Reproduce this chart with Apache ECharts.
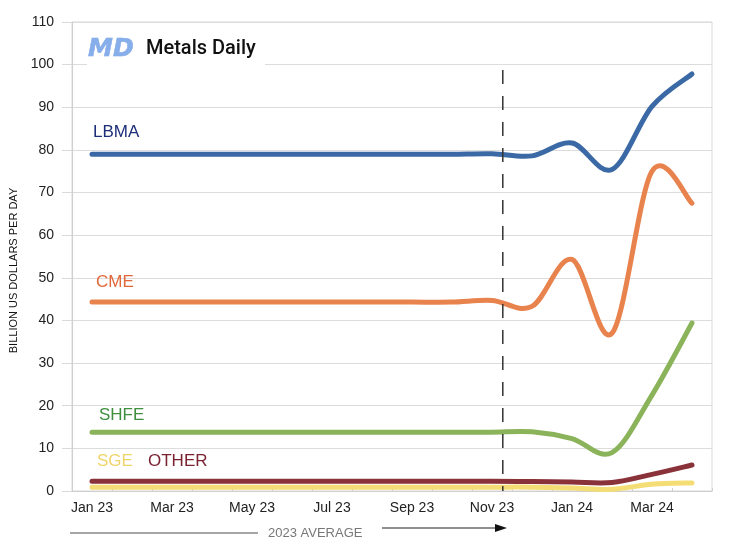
<!DOCTYPE html>
<html>
<head>
<meta charset="utf-8">
<script src="https://cdn.jsdelivr.net/npm/echarts@6/dist/echarts.min.js"></script>
<style>html,body{margin:0;padding:0;background:#fff}#c{width:745px;height:547px}</style>
</head>
<body>
<div id="c"></div>
<script>
const categories = ['Jan 23','Feb 23','Mar 23','Apr 23','May 23','Jun 23','Jul 23','Aug 23','Sep 23','Oct 23','Nov 23','Dec 23','Jan 24','Feb 24','Mar 24','Apr 24'];
const lbma  = [79,79,79,79,79,79,79,79,79,79,79.1,78.6,81.6,75.4,90.2,97.8];
const cme   = [44.3,44.3,44.3,44.3,44.3,44.3,44.3,44.3,44.3,44.3,44.7,43.3,54.3,37.0,75.0,67.5];
const shfe  = [13.8,13.8,13.8,13.8,13.8,13.8,13.8,13.8,13.8,13.8,13.8,13.9,12.3,9.0,22.5,39.4];
const other = [2.3,2.3,2.3,2.3,2.3,2.3,2.3,2.3,2.3,2.3,2.3,2.2,2.1,2.0,3.9,6.1];
const sge   = [0.9,0.9,0.9,0.9,0.9,0.9,0.9,0.9,0.9,0.9,0.9,0.9,0.7,0.4,1.6,1.9];
const yTicks = {min:0, max:110, interval:10};

const chart = echarts.init(document.getElementById('c'), null, {renderer:'canvas'});
const FONT = '"Liberation Sans", Arial, sans-serif';

// smooth (Catmull-Rom style) line through the data, positioned by the axis scales
function smoothLine(name, arr, color){
  const n = arr.length;
  return {
    name, type:'custom', z:3,
    data: arr.map((v,i)=>[i, v]),
    encode:{x:0, y:1},
    renderItem(params, api){
      if (params.dataIndex !== 0) return null;
      const P = k => { const kk = Math.max(0, Math.min(n-1, k)); return api.coord([kk, arr[kk]]); };
      const s = P(0);
      let d = 'M' + s[0] + ' ' + s[1];
      for (let i = 0; i < n - 1; i++) {
        const p0 = P(i-1), p1 = P(i), p2 = P(i+1), p3 = P(i+2);
        const c1 = [p1[0] + (p2[0]-p0[0])/6, p1[1] + (p2[1]-p0[1])/6];
        const c2 = [p2[0] - (p3[0]-p1[0])/6, p2[1] - (p3[1]-p1[1])/6];
        d += ' C' + c1[0] + ' ' + c1[1] + ' ' + c2[0] + ' ' + c2[1] + ' ' + p2[0] + ' ' + p2[1];
      }
      return {type:'path', shape:{pathData:d},
        style:{stroke:color, lineWidth:5, fill:null, lineCap:'round', lineJoin:'round'}};
    }
  };
}
chart.setOption({
  animation:false,
  grid:{left:72, right:33, top:22, bottom:56, show:true, borderColor:'#d9d9d9', borderWidth:1},
  xAxis:{type:'category', data:categories, boundaryGap:true,
    axisLine:{lineStyle:{color:'#cfcfcf'}},
    axisTick:{show:true, inside:true, length:3, interval:0, lineStyle:{color:'#cfcfcf'}},
    axisLabel:{interval:1, color:'#222', fontSize:14, fontFamily:FONT, margin:10}},
  yAxis:{type:'value', min:yTicks.min, max:yTicks.max, interval:yTicks.interval,
    name:'BILLION US DOLLARS PER DAY', nameLocation:'middle', nameGap:50, nameRotate:90,
    nameTextStyle:{color:'#111', fontSize:11, fontFamily:FONT, padding:[0,0,0,-28]},
    axisLine:{show:true, lineStyle:{color:'#cfcfcf'}},
    axisTick:{show:true, length:10, lineStyle:{color:'#d9d9d9'}},
    splitLine:{lineStyle:{color:'#dcdcdc'}},
    axisLabel:{color:'#222', fontSize:14, fontFamily:FONT, margin:18}},
  series:[
    smoothLine('SGE', sge, '#f5dd76'),
    smoothLine('OTHER', other, '#8a323a'),
    smoothLine('SHFE', shfe, '#8bb35a'),
    smoothLine('CME', cme, '#e8834e'),
    smoothLine('LBMA', lbma, '#3b69a5')
  ]
});

function px(idx, v){ return chart.convertToPixel({gridIndex:0}, [idx, v]); }
const band = px(1,0)[0] - px(0,0)[0];
const p0 = px(0,0);
const pTop = px(0,110);
const xDash = px(10,0)[0] + band*0.27;
const lab = (text, idx, v, dx, dy, color) => {
  const p = px(idx, v);
  return {type:'text', x:p[0]+dx, y:p[1]+dy, z:10,
    style:{text, fill:color, font:'17px ' + FONT, textVerticalAlign:'middle'}};
};
chart.setOption({
  graphic:[
    {type:'rect', shape:{x:87, y:31, width:178, height:36}, style:{fill:'#fff'}, z:5},
    {type:'text', x:88, y:49, z:6, style:{text:'MD', fill:'#86aeea', stroke:'#6f9be0', lineWidth:0.5,
      font:'italic bold 25px "DejaVu Sans", sans-serif', textVerticalAlign:'middle'}},
    {type:'text', x:146, y:49, z:6, style:{text:'Metals Daily', fill:'#111',
      font:'500 20px Roboto, sans-serif', textVerticalAlign:'middle'}},
    lab('LBMA', 0, lbma[0], 1, -22, '#1e2f7a'),
    lab('CME', 0, cme[0], 4, -20, '#e0683a'),
    lab('SHFE', 0, shfe[0], 7, -17, '#3f8f40'),
    lab('SGE', 0, sge[0], 5, -26, '#f0d46a'),
    lab('OTHER', 0, sge[0], 56, -26, '#7a2232'),
    {type:'line', z:8, shape:{x1:xDash, y1:pTop[1]+48, x2:xDash, y2:p0[1]},
      style:{stroke:'#333', lineWidth:1.5, lineDash:[14,12]}},
    {type:'line', z:8, shape:{x1:70, y1:533, x2:258, y2:533}, style:{stroke:'#888', lineWidth:1.5}},
    {type:'text', x:268, y:533, z:8, style:{text:'2023 AVERAGE', fill:'#777', font:'13px ' + FONT, textVerticalAlign:'middle'}},
    {type:'line', z:8, shape:{x1:382, y1:528, x2:496, y2:528}, style:{stroke:'#222', lineWidth:1.2}},
    {type:'polygon', z:8, shape:{points:[[495,524],[507,528],[495,532]]}, style:{fill:'#111'}}
  ]
});
</script>
</body>
</html>
